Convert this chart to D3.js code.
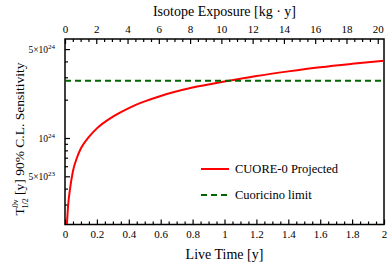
<!DOCTYPE html>
<html>
<head>
<meta charset="utf-8">
<script src="https://cdn.jsdelivr.net/npm/d3@7"></script>
<style>
  body { margin: 0; background: #fff; }
</style>
</head>
<body>
<div id="container"></div>
<script>
/* DATA */
// live time [y] and projected sensitivity [y]
const liveTime = [0.012, 0.02, 0.03, 0.05, 0.075, 0.1, 0.15, 0.2, 0.3, 0.4, 0.5, 0.6, 0.8, 1.0, 1.2, 1.4, 1.6, 1.8, 2.0];
const sensitivity = [2.1e23, 3.0e23, 3.85e23, 5.5e23, 7.0e23, 8.3e23, 1.02e24, 1.19e24, 1.47e24, 1.72e24, 1.94e24, 2.14e24, 2.49e24, 2.78e24, 3.07e24, 3.34e24, 3.6e24, 3.83e24, 4.05e24];
const cuoricinoLimit = 2.82e24;

const bottomTicks = [0, 0.2, 0.4, 0.6, 0.8, 1, 1.2, 1.4, 1.6, 1.8, 2];
const topTicks = [0, 2, 4, 6, 8, 10, 12, 14, 16, 18, 20];
const yMajor = [5e23, 1e24, 5e24];
const yMinor = [3e23, 4e23, 6e23, 7e23, 8e23, 9e23, 2e24, 3e24, 4e24];
const yLabels = [["5×10", "23"], ["10", "24"], ["5×10", "24"]];

const legendItems = ["CUORE-0 Projected", "Cuoricino limit"];

/* LAYOUT */
const width = 388, height = 263,
      margin = {top: 39, bottom: 38.5, left: 65, right: 4};
const serif = "Liberation Serif";

const svg = d3.select("#container").append("svg")
  .attr("width", width)
  .attr("height", height);

// scales
const xScale = d3.scaleLinear().domain([0, 2]).range([margin.left, width - margin.right]);
const xTop = d3.scaleLinear().domain([0, 20.4]).range([margin.left, width - margin.right]);
const yScale = d3.scaleLog().domain([2.09e23, 6e24]).range([height - margin.bottom, margin.top]);

const plotBottom = height - margin.bottom;

svg.append("clipPath").attr("id", "clip")
  .append("rect")
  .attr("x", margin.left).attr("y", margin.top)
  .attr("width", width - margin.left - margin.right)
  .attr("height", plotBottom - margin.top);

// + AXES (ticks point into the plot)
function styleAxis(g) {
  g.select(".domain").remove();
  g.selectAll(".tick line").attr("stroke", "#000").attr("stroke-width", 1.2);
  g.selectAll(".tick text")
    .attr("font-family", serif)
    .attr("font-size", 11)
    .attr("fill", "#000");
}

const minorX = d3.range(0, 2.001, 0.05).filter(v => Math.abs(v * 5 - Math.round(v * 5)) > 1e-6);
svg.append("g")
  .attr("transform", `translate(0,${plotBottom})`)
  .call(d3.axisBottom(xScale).tickValues(minorX).tickSize(-3).tickFormat(""))
  .call(styleAxis);
svg.append("g")
  .attr("transform", `translate(0,${plotBottom})`)
  .call(d3.axisBottom(xScale).tickValues(bottomTicks).tickSize(-5).tickPadding(6).tickFormat(d3.format("")))
  .call(styleAxis);

const minorTop = d3.range(0, 20.01, 0.5).filter(v => v % 2 !== 0);
svg.append("g")
  .attr("transform", `translate(0,${margin.top})`)
  .call(d3.axisTop(xTop).tickValues(minorTop).tickSize(-3).tickFormat(""))
  .call(styleAxis);
svg.append("g")
  .attr("transform", `translate(0,${margin.top})`)
  .call(d3.axisTop(xTop).tickValues(topTicks).tickSize(-5).tickPadding(6).tickFormat(d3.format("")))
  .call(styleAxis);

svg.append("g")
  .attr("transform", `translate(${margin.left},0)`)
  .call(d3.axisLeft(yScale).tickValues(yMinor).tickSize(-3).tickFormat(""))
  .call(styleAxis);
const yAxisGroup = svg.append("g")
  .attr("transform", `translate(${margin.left},0)`)
  .call(d3.axisLeft(yScale).tickValues(yMajor).tickSize(-5).tickPadding(5).tickFormat(""))
  .call(styleAxis);

// y tick labels with superscript exponents
yAxisGroup.selectAll(".tick").each(function(d, i) {
  const t = d3.select(this).append("text")
    .attr("x", -10).attr("dy", "0.32em")
    .attr("text-anchor", "end")
    .attr("fill", "#000")
    .attr("font-family", serif)
    .attr("font-size", 9.5);
  t.append("tspan").text(yLabels[i][0]);
  t.append("tspan").attr("dy", -4).attr("font-size", 7).text(yLabels[i][1]);
});

// frame
svg.append("rect")
  .attr("x", margin.left).attr("y", margin.top)
  .attr("width", width - margin.left - margin.right)
  .attr("height", plotBottom - margin.top)
  .attr("fill", "none")
  .attr("stroke", "#000")
  .attr("stroke-width", 1.5);

// + LINES
const line = d3.line()
  .x(d => xScale(d[0]))
  .y(d => yScale(d[1]))
  .curve(d3.curveMonotoneX);

svg.append("path")
  .datum(d3.zip(liveTime, sensitivity))
  .attr("clip-path", "url(#clip)")
  .attr("fill", "none")
  .attr("stroke", "#ff0000")
  .attr("stroke-width", 2)
  .attr("d", line);

svg.append("line")
  .attr("x1", xScale(0)).attr("x2", xScale(2))
  .attr("y1", yScale(cuoricinoLimit)).attr("y2", yScale(cuoricinoLimit))
  .attr("stroke", "#006400")
  .attr("stroke-width", 2)
  .attr("stroke-dasharray", "6,4");

// + LEGEND
const legend = svg.append("g").attr("transform", "translate(201,169)");
legend.selectAll("line")
  .data(legendItems)
  .join("line")
  .attr("x1", 0).attr("x2", 28)
  .attr("y1", (d, i) => i * 26).attr("y2", (d, i) => i * 26)
  .attr("stroke", (d, i) => i === 0 ? "#ff0000" : "#006400")
  .attr("stroke-width", 2)
  .attr("stroke-dasharray", (d, i) => i === 0 ? null : "6,4");
legend.selectAll("text")
  .data(legendItems)
  .join("text")
  .attr("x", 34)
  .attr("y", (d, i) => i * 26)
  .attr("dy", "0.35em")
  .attr("font-family", serif)
  .attr("font-size", 12.5)
  .text(d => d);

// + AXIS TITLES
svg.append("text")
  .attr("x", (margin.left + width - margin.right) / 2)
  .attr("y", 16)
  .attr("text-anchor", "middle")
  .attr("font-family", serif)
  .attr("font-size", 14)
  .text("Isotope Exposure [kg · y]");

svg.append("text")
  .attr("x", (margin.left + width - margin.right) / 2)
  .attr("y", 259)
  .attr("text-anchor", "middle")
  .attr("font-family", serif)
  .attr("font-size", 14)
  .text("Live Time [y]");

const yTitle = svg.append("text")
  .attr("transform", "translate(24,139) rotate(-90)")
  .attr("text-anchor", "middle")
  .attr("font-family", serif)
  .attr("font-size", 13.5);
yTitle.append("tspan").text("T");
yTitle.append("tspan").attr("dy", -6).attr("font-size", 8).text("0ν");
yTitle.append("tspan").attr("dx", -9).attr("dy", 10).attr("font-size", 8).text("1/2");
yTitle.append("tspan").attr("dy", -4).text(" [y] 90% C.L. Sensitivity");
</script>
</body>
</html>
